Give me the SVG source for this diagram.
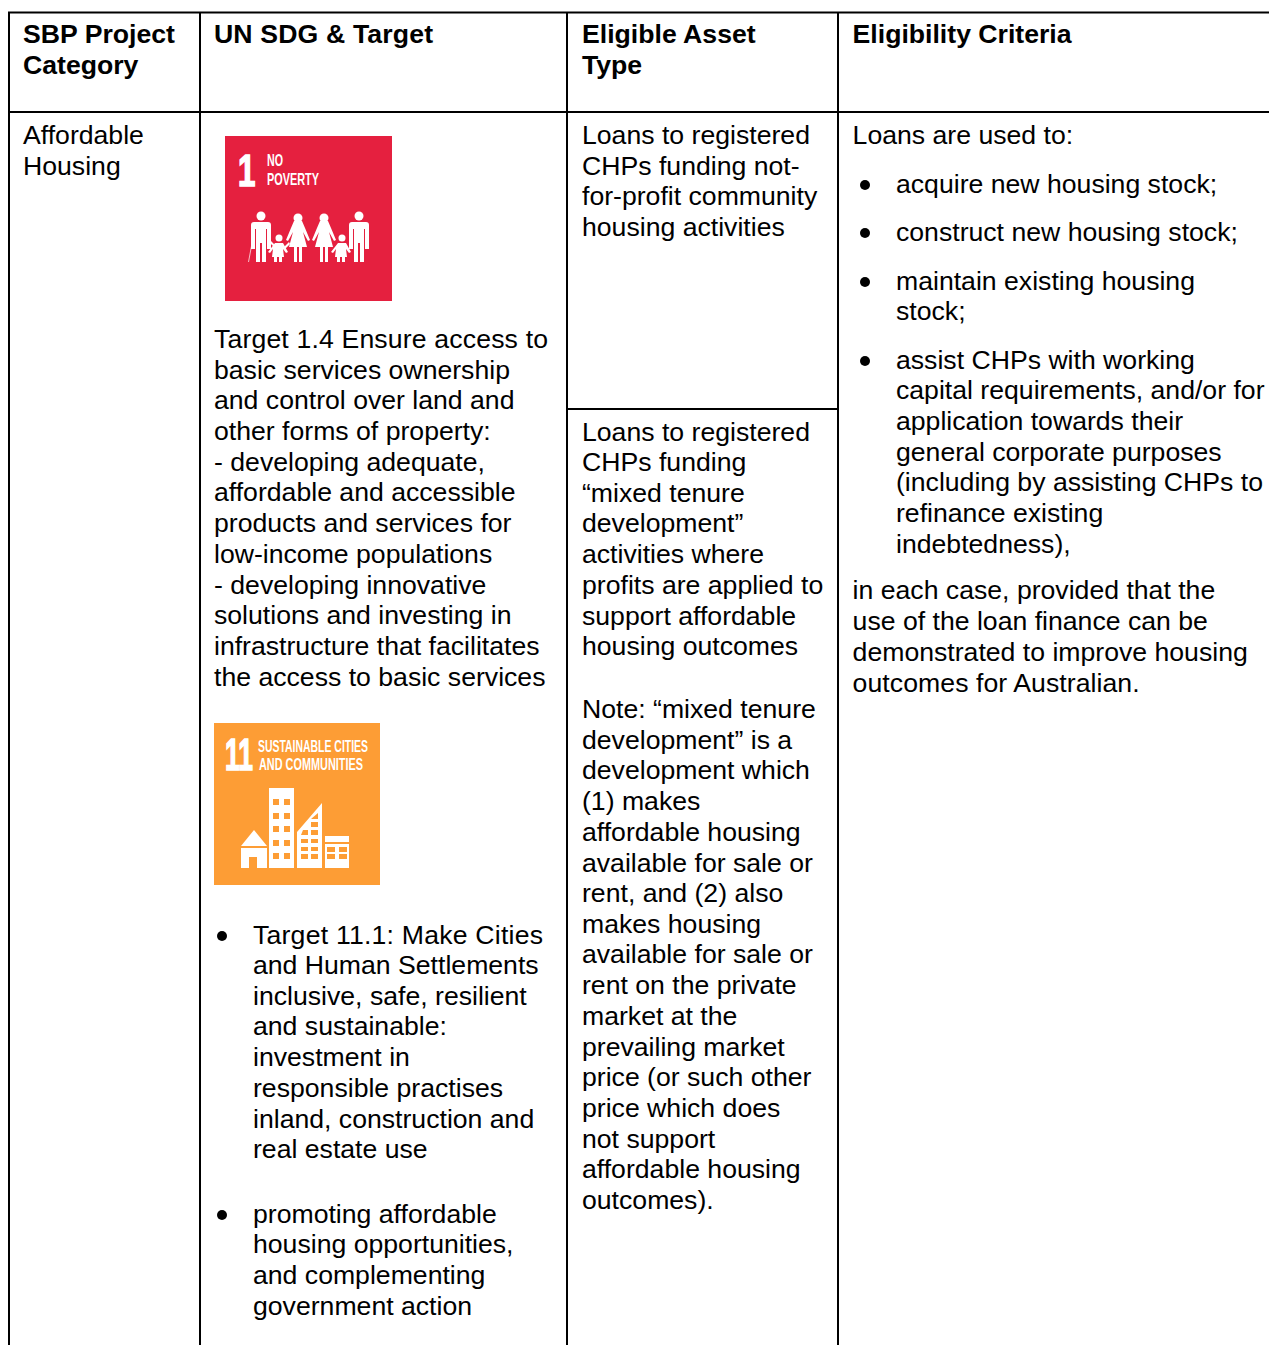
<svg xmlns="http://www.w3.org/2000/svg" width="1269" height="1345" viewBox="0 0 1269 1345">
<style>
text{font-family:"Liberation Sans",Arial,sans-serif;font-size:26.64px;fill:#000}
.h{font-weight:700}
.l{stroke:#000;stroke-width:2;fill:none}
.w{fill:#fff}
text.ic{font-family:"Liberation Sans Narrow","Liberation Sans",sans-serif;fill:#fff;font-weight:700;font-size:16.500px}
text.big{font-family:"Liberation Sans Narrow","Liberation Sans",sans-serif;fill:#fff;stroke:#fff;stroke-width:1.200px;font-weight:700;font-size:33px}
</style>
<rect width="1269" height="1345" fill="#fff"/>
<g id="grid">
<path class="l" d="M9 1345V12.500H1269M200 12V1345M567 12V1345M838 12V1345M9 112H1269M567 409H838"/>
</g>
<defs>
<path id="man" d="M-7 6h14q3 0 3 3v24h-4v-20h-1v33h-4v-19h-2v19h-4v-33h-1v20h-4v-24q0-3 3-3z"/>
<path id="woman" d="M-4 6h8l3 7 5 12-2 1-5-9 4 15h-5v15h-3v-15h-2v15h-3v-15h-5l4-15-5 9-2-1 5-12z"/>
<path id="kid" d="M-4 5h8l5 9-2 1-3-4 1 8h-2v5h-3v-5h-2v5h-3v-5h-2l1-8-3 4-2-1z"/>
</defs>
<g id="col1">
<text class="h" x="23" y="43">SBP Project</text>
<text class="h" x="23" y="74">Category</text>
<text x="23" y="144">Affordable</text>
<text x="23" y="175">Housing</text>
</g>
<g id="col2">
<text class="h" x="214" y="43" textLength="219" lengthAdjust="spacing">UN SDG &amp; Target</text>
<g id="sdg1">
<rect x="225" y="136" width="167" height="165" fill="#e5203f"/>
<text class="big" transform="translate(238 186) scale(.95 1.36)">1</text>
<text class="ic" x="267" y="166" textLength="16" lengthAdjust="spacingAndGlyphs">NO</text>
<text class="ic" x="267" y="185" textLength="52" lengthAdjust="spacingAndGlyphs">POVERTY</text>
<g class="w">
<circle cx="261" cy="216" r="4.500"/><use href="#man" x="261" y="216"/>
<path d="M248 262l3-16 1 0-3 16z" opacity=".7"/>
<path d="M271 241l5 5-1 2-5-5zM284 247l5-5 1 2-5 5z"/>
<circle cx="279" cy="238" r="3.500"/><use href="#kid" x="279" y="238"/>
<circle cx="298" cy="218" r="4.500"/><use href="#woman" x="298" y="215"/>
<circle cx="324" cy="218" r="4.500"/><use href="#woman" x="324" y="215"/>
<circle cx="342" cy="238" r="3.500"/><use href="#kid" x="342" y="238"/>
<circle cx="359" cy="216" r="4.500"/><use href="#man" x="359" y="216"/>
</g>
</g>
<text x="214" y="348" textLength="334" lengthAdjust="spacing">Target 1.4 Ensure access to</text>
<text x="214" y="379">basic services ownership</text>
<text x="214" y="409">and control over land and</text>
<text x="214" y="440">other forms of property:</text>
<text x="214" y="471">- developing adequate,</text>
<text x="214" y="501">affordable and accessible</text>
<text x="214" y="532">products and services for</text>
<text x="214" y="563">low-income populations</text>
<text x="214" y="594">- developing innovative</text>
<text x="214" y="624">solutions and investing in</text>
<text x="214" y="655">infrastructure that facilitates</text>
<text x="214" y="686">the access to basic services</text>
<g id="sdg11">
<rect x="214" y="723" width="166" height="162" fill="#fd9d35"/>
<text class="big" transform="translate(225 770) scale(.8 1.36)">11</text>
<text class="ic" x="258" y="752" textLength="110" lengthAdjust="spacingAndGlyphs">SUSTAINABLE CITIES</text>
<text class="ic" x="259" y="770" textLength="104" lengthAdjust="spacingAndGlyphs">AND COMMUNITIES</text>
<path class="w" fill-rule="evenodd" d="M241 846L254 830 267 846zM241 848h26v20h-26zM249 857v11h8v-11z"/>
<path class="w" fill-rule="evenodd" d="M269 788h25v80h-25zM273 799v6h6v-6zM284 799v6h6v-6zM273 813v6h6v-6zM284 813v6h6v-6zM273 826v6h6v-6zM284 826v6h6v-6zM273 840v6h6v-6zM284 840v6h6v-6zM273 853v6h6v-6zM284 853v6h6v-6z"/>
<path class="w" fill-rule="evenodd" d="M297 832L322 803v65h-25zM318 813l-7 6h7zM311 822v5h7v-5zM303 830l-2 5h7v-5zM311 830v5h7v-5zM301 839v4h7v-4zM311 839v4h7v-4zM301 847v4h7v-4zM311 847v4h7v-4zM301 854v5h7v-5zM311 854v5h7v-5z"/>
<path class="w" fill-rule="evenodd" d="M325 836h24v6h-24zM325 844h24v24h-24zM327 847v5h8v-5zM339 847v5h8v-5zM327 854v5h8v-5zM339 854v5h8v-5z"/>
</g>
<circle cx="222" cy="936" r="5"/>
<text x="253" y="944" textLength="290" lengthAdjust="spacing">Target 11.1: Make Cities</text>
<text x="253" y="974">and Human Settlements</text>
<text x="253" y="1005">inclusive, safe, resilient</text>
<text x="253" y="1035">and sustainable:</text>
<text x="253" y="1066">investment in</text>
<text x="253" y="1097">responsible practises</text>
<text x="253" y="1128">inland, construction and</text>
<text x="253" y="1158">real estate use</text>
<circle cx="222" cy="1215" r="5"/>
<text x="253" y="1223">promoting affordable</text>
<text x="253" y="1253">housing opportunities,</text>
<text x="253" y="1284">and complementing</text>
<text x="253" y="1315">government action</text>
</g>
<g id="col3">
<text class="h" x="582" y="43">Eligible Asset</text>
<text class="h" x="582" y="74">Type</text>
<text x="582" y="144">Loans to registered</text>
<text x="582" y="175">CHPs funding not-</text>
<text x="582" y="205">for-profit community</text>
<text x="582" y="236">housing activities</text>
<text x="582" y="441">Loans to registered</text>
<text x="582" y="471">CHPs funding</text>
<text x="582" y="502">“mixed tenure</text>
<text x="582" y="532">development”</text>
<text x="582" y="563">activities where</text>
<text x="582" y="594">profits are applied to</text>
<text x="582" y="625">support affordable</text>
<text x="582" y="655">housing outcomes</text>
<text x="582" y="718">Note: “mixed tenure</text>
<text x="582" y="749">development” is a</text>
<text x="582" y="779">development which</text>
<text x="582" y="810">(1) makes</text>
<text x="582" y="841">affordable housing</text>
<text x="582" y="872">available for sale or</text>
<text x="582" y="902">rent, and (2) also</text>
<text x="582" y="933">makes housing</text>
<text x="582" y="963">available for sale or</text>
<text x="582" y="994">rent on the private</text>
<text x="582" y="1025">market at the</text>
<text x="582" y="1056">prevailing market</text>
<text x="582" y="1086">price (or such other</text>
<text x="582" y="1117">price which does</text>
<text x="582" y="1148">not support</text>
<text x="582" y="1178">affordable housing</text>
<text x="582" y="1209">outcomes).</text>
</g>
<g id="col4">
<text class="h" x="852.600" y="43">Eligibility Criteria</text>
<text x="852.600" y="144">Loans are used to:</text>
<circle cx="865" cy="185" r="5"/>
<text x="896" y="193">acquire new housing stock;</text>
<circle cx="865" cy="233" r="5"/>
<text x="896" y="241">construct new housing stock;</text>
<circle cx="865" cy="282" r="5"/>
<text x="896" y="290">maintain existing housing</text>
<text x="896" y="320">stock;</text>
<circle cx="865" cy="361" r="5"/>
<text x="896" y="369">assist CHPs with working</text>
<text x="896" y="399">capital requirements, and/or for</text>
<text x="896" y="430">application towards their</text>
<text x="896" y="461">general corporate purposes</text>
<text x="896" y="491">(including by assisting CHPs to</text>
<text x="896" y="522">refinance existing</text>
<text x="896" y="553">indebtedness),</text>
<text x="852.600" y="599">in each case, provided that the</text>
<text x="852.600" y="630">use of the loan finance can be</text>
<text x="852.600" y="661">demonstrated to improve housing</text>
<text x="852.600" y="692" textLength="287" lengthAdjust="spacing">outcomes for Australian.</text>
</g>
</svg>
